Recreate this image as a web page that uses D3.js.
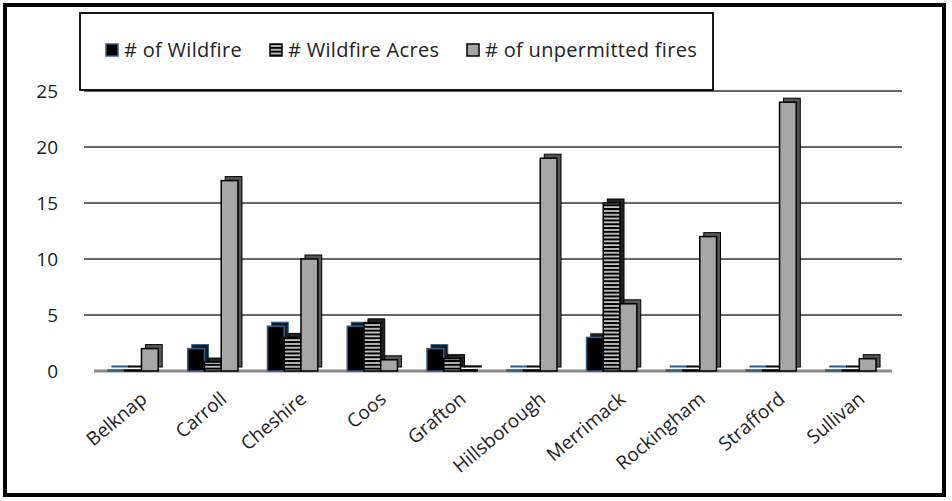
<!DOCTYPE html>
<html>
<head>
<meta charset="utf-8">
<script src="https://d3js.org/d3.v7.min.js"></script>
<style>
body { margin: 0; background: #fff; }
svg text { font-family: 'Open Sans', sans-serif; fill: #222; }
</style>
</head>
<body>
<svg id="chart" width="952" height="501"></svg>
<script>
// county fire numbers
const counties = ["Belknap", "Carroll", "Cheshire", "Coos", "Grafton", "Hillsborough", "Merrimack", "Rockingham", "Strafford", "Sullivan"];
const wildfires = [0, 2, 4, 4, 2, 0, 3, 0, 0, 0];
const wildfireAcres = [0, 0.8, 3, 4.3, 1.1, 0, 15, 0, 0, 0];
const unpermitted = [2, 17, 10, 1, 0.1, 19, 6, 12, 24, 1.1];
const seriesNames = ["# of Wildfire", "# Wildfire Acres", "# of unpermitted fires"];
const yTicks = [0, 5, 10, 15, 20, 25];

const svg = d3.select("#chart");
const defs = svg.append("defs");

// horizontal stripes for the acres series
const pat = defs.append("pattern")
    .attr("id", "stripes")
    .attr("patternUnits", "userSpaceOnUse")
    .attr("width", 8).attr("height", 3.8);
pat.append("rect").attr("width", 8).attr("height", 3.8).attr("fill", "#000");
pat.append("rect").attr("y", 1.2).attr("width", 8).attr("height", 1.5).attr("fill", "#eee");

const series = [
  { name: seriesNames[0], values: wildfires, fill: "#000", stroke: "#2e5e8c", side: "#1a1a1a" },
  { name: seriesNames[1], values: wildfireAcres, fill: "url(#stripes)", stroke: "#000", side: "#222" },
  { name: seriesNames[2], values: unpermitted, fill: "#a6a6a6", stroke: "#000", side: "#555" }
];

const x = d3.scaleBand().domain(counties).range([96, 888]).paddingInner(0.37).paddingOuter(0.15);
const xs = d3.scaleBand().domain(seriesNames).range([0, x.bandwidth()]);
const y = d3.scaleLinear().domain([0, 25]).range([371, 91]);
const depth = 4;

// outer frame
svg.append("rect")
    .attr("x", 5).attr("y", 5).attr("width", 939).attr("height", 490)
    .attr("fill", "none").attr("stroke", "#000").attr("stroke-width", 4);

// gridlines
svg.append("g").selectAll("line")
  .data(yTicks.filter(d => d > 0))
  .join("line")
    .attr("x1", 84).attr("x2", 902)
    .attr("y1", d => y(d)).attr("y2", d => y(d))
    .attr("stroke", "#333").attr("stroke-width", 1.4);

// floor
svg.append("line")
    .attr("x1", 94).attr("x2", 892)
    .attr("y1", y(0)).attr("y2", y(0))
    .attr("stroke", "#8a8a8a").attr("stroke-width", 3);

// y labels
svg.append("g").selectAll("text")
  .data(yTicks)
  .join("text")
    .attr("x", 58).attr("y", d => y(d))
    .attr("dy", "0.35em")
    .attr("text-anchor", "end")
    .attr("font-size", 19)
    .text(d => d);

// bars
const groups = svg.append("g").selectAll("g")
  .data(series)
  .join("g");

groups.each(function(s) {
  const g = d3.select(this);
  const w = xs.bandwidth();
  const data = counties.map((c, i) => ({ c, v: s.values[i] }));
  // back face gives the 3d look
  g.selectAll("rect.back")
    .data(data)
    .join("rect")
      .attr("class", "back")
      .attr("x", d => x(d.c) + xs(s.name) + depth)
      .attr("y", d => Math.min(y(d.v), y(0) - 1) - depth)
      .attr("width", w)
      .attr("height", d => Math.max(1, y(0) - y(d.v)))
      .attr("fill", s.side)
      .attr("stroke", s.stroke)
      .attr("stroke-width", 1);
  g.selectAll("rect.front")
    .data(data)
    .join("rect")
      .attr("class", "front")
      .attr("x", d => x(d.c) + xs(s.name))
      .attr("y", d => Math.min(y(d.v), y(0) - 1))
      .attr("width", w)
      .attr("height", d => Math.max(1, y(0) - y(d.v)))
      .attr("fill", s.fill)
      .attr("stroke", s.stroke)
      .attr("stroke-width", 1.5);
});

// x labels, rotated
svg.append("g").selectAll("text")
  .data(counties)
  .join("text")
    .attr("transform", d => "translate(" + (x(d) + x.bandwidth() / 2 + 15) + ",401) rotate(-40)")
    .attr("text-anchor", "end")
    .attr("font-size", 19)
    .text(d => d);

// legend box
svg.append("rect")
    .attr("x", 80).attr("y", 13).attr("width", 633).attr("height", 77)
    .attr("fill", "#fff").attr("stroke", "#000").attr("stroke-width", 1.8);

const legendX = [106, 270, 467];
const legend = svg.append("g").selectAll("g")
  .data(series)
  .join("g")
    .attr("transform", (d, i) => "translate(" + legendX[i] + ",44)");
legend.append("rect")
    .attr("width", 12).attr("height", 12)
    .attr("fill", d => d.fill)
    .attr("stroke", d => d.stroke).attr("stroke-width", 1.5);
legend.append("text")
    .attr("x", 18).attr("y", 6)
    .attr("dy", "0.35em")
    .attr("font-size", 20)
    .attr("letter-spacing", 0.3)
    .text(d => d.name);
</script>
</body>
</html>
